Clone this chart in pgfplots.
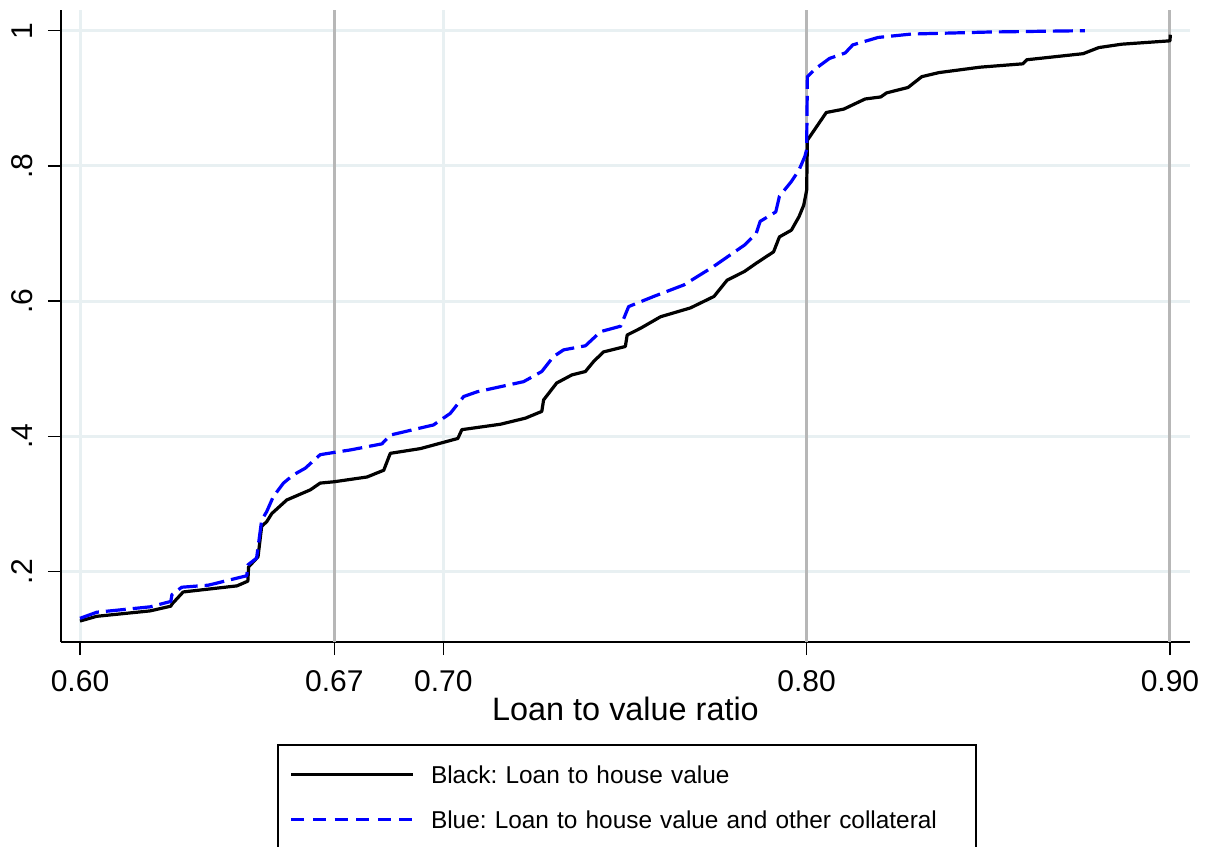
\documentclass[border=0pt]{standalone}
\usepackage{fontspec}
\setmainfont{Liberation Sans}
\usepackage{pgfplots}
\pgfplotsset{compat=1.18}
\definecolor{lightgrid}{RGB}{232,240,242}
\definecolor{darkgrid}{RGB}{183,183,183}
\definecolor{stblue}{RGB}{0,0,255}
\frenchspacing
\begin{document}
\frenchspacing
\begin{tikzpicture}
\begin{axis}[
  at={(0,0)}, anchor=south west,
  scale only axis,
  width=564.5pt, height=316pt,
  xmin=0.59477, xmax=0.90551,
  ymin=0.0960, ymax=1.0306,
  axis x line*=bottom, axis y line*=left,
  axis line style={-, line width=0.8pt, black},
  tick align=outside,
  major tick length=6.5pt,
  every tick/.style={line width=0.8pt, black},
  xtick={0.60,0.70}, xticklabels={0.60,0.70},
  extra x ticks={0.67,0.80,0.90},
  extra x tick labels={0.67,0.80,0.90},
  extra x tick style={grid=major, major grid style={color=darkgrid, line width=1.5pt}},
  ytick={0.2,0.4,0.6,0.8,1}, yticklabels={.2,.4,.6,.8,1},
  xmajorgrids, ymajorgrids,
  major grid style={color=lightgrid, line width=1.5pt},
  /pgf/number format/assume math mode=true,
  every tick label/.append style={font=\fontsize{15}{18}\selectfont, inner sep=0pt},
  xticklabel shift=7.5pt,
  yticklabel shift=7.5pt,
  yticklabel style={rotate=90, anchor=south},
  xlabel={Loan to value ratio},
  xlabel style={at={(axis description cs:0.5,0)}, anchor=base, yshift=-39pt, inner sep=0pt, font=\fontsize{16.2}{19}\selectfont},
  legend style={at={(axis description cs:0.1916,-0.1619)}, anchor=north west,
    draw=black, line width=0.6pt, inner xsep=6pt, inner ysep=10pt,
    row sep=12.5pt,
    font=\fontsize{12.2}{15}\selectfont\frenchspacing,
    nodes={inner sep=0pt, text height=9.3pt, text depth=0.5pt, text width=266.5pt, align=left}},
  legend cell align=left,
  legend image code/.code={\draw[#1, line width=1.5pt] (0pt,0pt) -- (61pt,0pt); \path (69pt,0pt);},
]
\addplot[black, line width=1.6pt, line join=round] coordinates {
(0.6000,0.127) (0.6046,0.134) (0.6193,0.142) (0.6250,0.149) (0.6253,0.152)
(0.6284,0.170) (0.6432,0.179) (0.6462,0.186) (0.6464,0.207) (0.6490,0.222)
(0.6500,0.267) (0.6514,0.274) (0.6528,0.286) (0.6569,0.306) (0.6634,0.321)
(0.6661,0.331) (0.6700,0.333) (0.6790,0.340) (0.6836,0.350) (0.6854,0.375)
(0.6937,0.382) (0.7040,0.397) (0.7051,0.410) (0.7157,0.418) (0.7226,0.427)
(0.7271,0.437) (0.7276,0.454) (0.7312,0.479) (0.7354,0.491) (0.7391,0.496)
(0.7414,0.511) (0.7441,0.525) (0.7501,0.533) (0.7506,0.550) (0.7543,0.560)
(0.7598,0.577) (0.7680,0.590) (0.7745,0.607) (0.7781,0.631) (0.7829,0.644)
(0.7861,0.656) (0.7909,0.673) (0.7925,0.695) (0.7958,0.705) (0.7979,0.725)
(0.7992,0.742) (0.8000,0.764) (0.8002,0.838) (0.8054,0.879) (0.8102,0.884)
(0.8161,0.899) (0.8204,0.902) (0.8220,0.908) (0.8279,0.916) (0.8317,0.932)
(0.8364,0.938) (0.8477,0.946) (0.8595,0.951) (0.8606,0.957) (0.8761,0.966)
(0.8804,0.975) (0.8867,0.980) (0.9000,0.985) (0.9001,0.994)
};
\addlegendentry{Black: Loan to house value}
\addplot[stblue, line width=1.6pt, line join=round, dash pattern=on 10pt off 3.5pt,
  legend image post style={dash pattern=on 6.5pt off 4.3pt}] coordinates {
(0.6000,0.131) (0.6046,0.140) (0.6193,0.148) (0.6250,0.156) (0.6253,0.166)
(0.6280,0.177) (0.6353,0.180) (0.6459,0.194) (0.6462,0.210) (0.6486,0.220)
(0.6500,0.276) (0.6514,0.289) (0.6532,0.311) (0.6560,0.331) (0.6587,0.343)
(0.6620,0.353) (0.6661,0.373) (0.6707,0.377) (0.6744,0.380) (0.6831,0.389)
(0.6854,0.402) (0.6973,0.417) (0.7019,0.434) (0.7056,0.459) (0.7093,0.466)
(0.7221,0.481) (0.7271,0.496) (0.7303,0.518) (0.7331,0.528) (0.7391,0.534)
(0.7433,0.555) (0.7488,0.563) (0.7510,0.592) (0.7579,0.607) (0.7662,0.624)
(0.7743,0.651) (0.7802,0.673) (0.7829,0.683) (0.7861,0.700) (0.7872,0.718)
(0.7915,0.732) (0.7925,0.755) (0.7958,0.777) (0.7979,0.794) (0.7995,0.814)
(0.8000,0.824) (0.8002,0.932) (0.8025,0.944) (0.8063,0.959) (0.8106,0.967)
(0.8127,0.979) (0.8197,0.990) (0.8288,0.995) (0.8503,0.998) (0.8766,1.000)
};
\addlegendentry{Blue: Loan to house value and other collateral}
\end{axis}
\pgfresetboundingbox
\path (-30.5pt,-102pt) rectangle (574.5pt,321pt);
\end{tikzpicture}
\end{document}
